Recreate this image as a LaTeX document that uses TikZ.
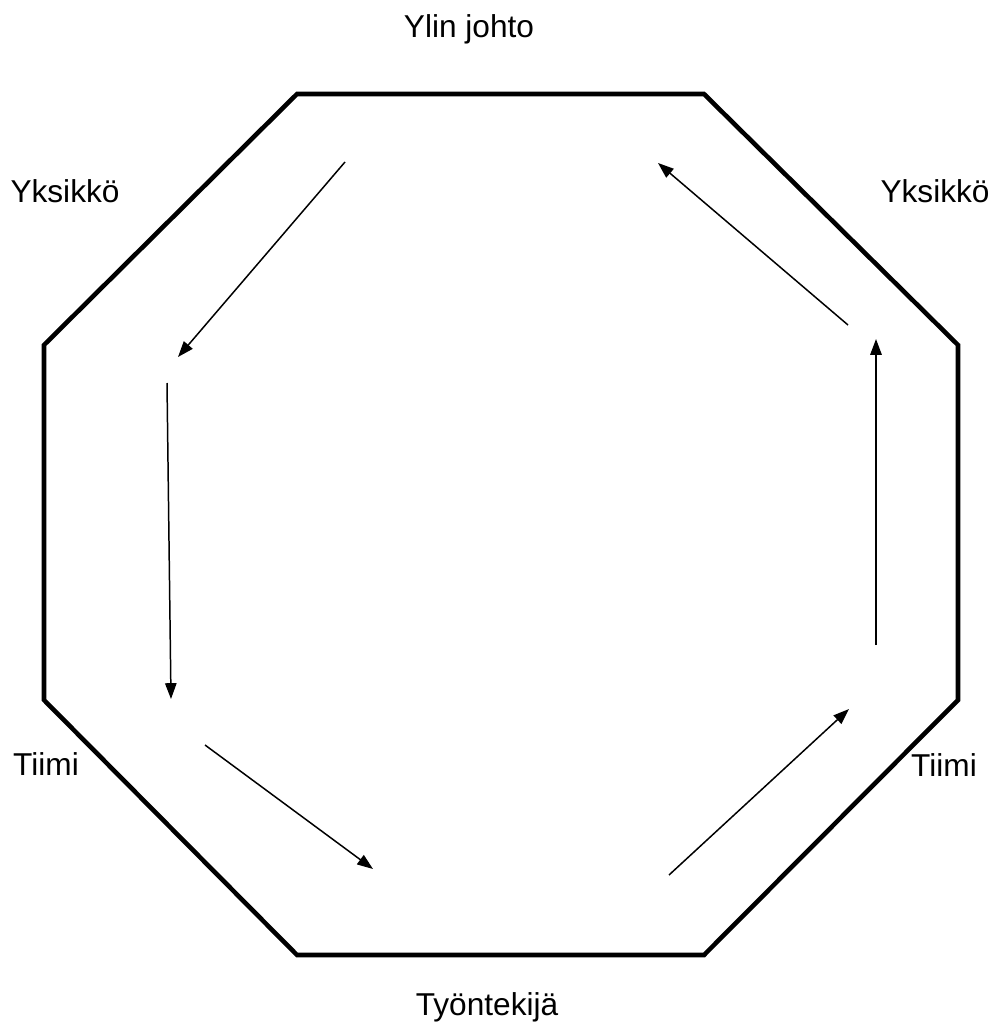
\documentclass[tikz,border=0pt]{standalone}
\usepackage{fontspec}
\setmainfont{Liberation Sans}
\usetikzlibrary{arrows.meta}

\begin{document}
\begin{tikzpicture}[
    x=0.02cm,y=-0.02cm,
    label/.style={font=\fontsize{18}{21}\selectfont,inner sep=0pt,anchor=base},
    frame/.style={draw,line width=2.6pt,line join=miter},
    arrow/.style={-{Triangle[length=9pt,width=6.5pt]},line width=0.85pt}
  ]
    \useasboundingbox (0,0) rectangle (994,1030);

    % octagon corners
    \coordinate (tl) at (297,94);
    \coordinate (tr) at (704,94);
    \coordinate (rt) at (958,345);
    \coordinate (rb) at (958,700);
    \coordinate (br) at (704,955);
    \coordinate (bl) at (297,955);
    \coordinate (lb) at (44,700);
    \coordinate (lt) at (44,345);
    \draw[frame] (tl) -- (tr) -- (rt) -- (rb) -- (br) -- (bl) -- (lb) -- (lt) -- cycle;

    \node[label] (top) at (469,38) {Ylin johto};
    \node[label] (unitl) at (65,203) {Yksikkö};
    \node[label] (unitr) at (935,203) {Yksikkö};
    \node[label] (teaml) at (46,775) {Tiimi};
    \node[label] (teamr) at (944,776) {Tiimi};
    \node[label] (emp) at (487,1015) {Työntekijä};

    % cycle arrows
    \coordinate (a1) at (345,162);  \coordinate (b1) at (178,357);
    \coordinate (a2) at (167,383);  \coordinate (b2) at (171,699);
    \coordinate (a3) at (205,745);  \coordinate (b3) at (373,869);
    \coordinate (a4) at (669,875);  \coordinate (b4) at (849,709);
    \coordinate (a5) at (876,645);  \coordinate (b5) at (876,339);
    \coordinate (a6) at (848,325);  \coordinate (b6) at (658,163);

    \draw[arrow] (a1) -- (b1);
    \draw[arrow] (a2) -- (b2);
    \draw[arrow] (a3) -- (b3);
    \draw[arrow] (a4) -- (b4);
    \draw[arrow] (a5) -- (b5);
    \draw[arrow] (a6) -- (b6);
\end{tikzpicture}
\end{document}
